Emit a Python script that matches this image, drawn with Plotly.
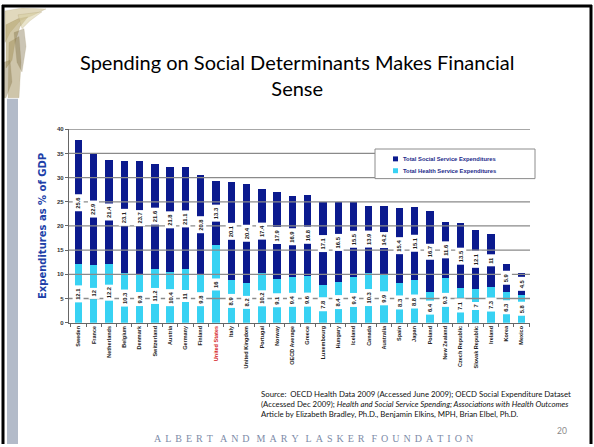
import plotly.graph_objects as go

# OECD social vs health service spending, % of GDP
countries = ["Sweden", "France", "Netherlands", "Belgium", "Denmark", "Switzerland",
             "Austria", "Germany", "Finland", "United States", "Italy", "United Kingdom",
             "Portugal", "Norway", "OECD Average", "Greece", "Luxembourg", "Hungary",
             "Iceland", "Canada", "Australia", "Spain", "Japan", "Poland", "New Zealand",
             "Czech Republic", "Slovak Republic", "Ireland", "Korea", "Mexico"]
health = [12.1, 12, 12.2, 10.3, 9.8, 11.2, 10.4, 11, 9.8, 16, 8.9, 8.2, 10.2, 9.1, 9.4,
          9.6, 7.8, 8.4, 9.4, 10.3, 9.9, 8.3, 8.8, 6.4, 9.3, 7.1, 7, 7.3, 6.3, 5.8]
social = [25.6, 22.9, 21.4, 23.1, 23.7, 21.6, 21.8, 21.1, 20.8, 13.3, 20.1, 20.4, 17.4,
          17.9, 16.9, 16.8, 17.1, 16.5, 15.5, 13.9, 14.2, 15.4, 15.1, 16.7, 11.6, 13.5,
          12.1, 11.0, 5.9, 4.5]
y_ticks = [0, 5, 10, 15, 20, 25, 30, 35, 40]
highlight = "United States"
health_name = "Total Health Service Expenditures"
social_name = "Total Social Service Expenditures"

NAVY = "#0B1A8E"
CYAN = "#38D2F3"
W, H = 594, 447


def px(x):
    return x / W


def py(y):
    return 1 - y / H


fig = go.Figure()
fig.add_bar(x=countries, y=health, name=health_name,
            marker=dict(color=CYAN, line=dict(width=0)), width=0.48)
fig.add_bar(x=countries, y=social, name=social_name,
            marker=dict(color=NAVY, line=dict(width=0)), width=0.48)

ticktext = [f"<span style='color:#D42020'>{c}</span>" if c == highlight else c
            for c in countries]

shapes = []
# gridlines sit over the bars; value boxes cover them again
for v in y_ticks[1:]:
    shapes.append(dict(type="line", xref="x domain", yref="y", x0=0, x1=1, y0=v, y1=v,
                       line=dict(color="#8A8A8A", width=1.3), layer="above"))

# slide frame and side band
shapes.append(dict(type="rect", xref="paper", yref="paper", x0=px(7), x1=px(18),
                   y0=0, y1=py(97), fillcolor="#B3BBC9", line=dict(width=0), layer="below"))
shapes.append(dict(type="line", xref="paper", yref="paper", x0=px(3), x1=px(3), y0=0, y1=py(2),
                   line=dict(color="black", width=3)))
shapes.append(dict(type="line", xref="paper", yref="paper", x0=px(2), x1=px(592), y0=py(3), y1=py(3),
                   line=dict(color="black", width=3)))
shapes.append(dict(type="line", xref="paper", yref="paper", x0=px(591), x1=px(591), y0=0, y1=py(2),
                   line=dict(color="black", width=3)))
# winged bronze ornament in the corner
wing_paths = [
    ([(5, 8), (22, 5), (46, 6), (34, 12), (20, 18), (10, 30), (5, 40)], "rgba(200,186,135,0.55)"),
    ([(6, 22), (18, 16), (28, 14), (20, 24), (15, 40), (12, 58), (6, 66)], "rgba(176,160,105,0.6)"),
    ([(9, 40), (19, 34), (21, 60), (19, 96), (8, 96)], "rgba(165,150,100,0.55)"),
    ([(18, 12), (42, 9), (30, 18), (22, 26)], "rgba(215,205,160,0.55)"),
    ([(4, 60), (10, 58), (12, 80), (6, 96), (4, 96)], "rgba(140,125,80,0.45)"),
    ([(14, 30), (24, 26), (26, 44), (22, 70), (17, 60)], "rgba(125,110,70,0.4)"),
]
for pts, col in wing_paths:
    d = " ".join(("M " if k == 0 else "L ") + f"{px(x):.4f},{py(y):.4f}" for k, (x, y) in enumerate(pts))
    shapes.append(dict(type="path", xref="paper", yref="paper", path=d + " Z",
                       fillcolor=col, line=dict(color="rgba(150,135,85,0.35)", width=0.5),
                       layer="below"))

# legend panel
lg_x0, lg_x1, lg_y0, lg_y1 = 375, 535, 148, 178
shapes.append(dict(type="rect", xref="paper", yref="paper", x0=px(lg_x0), x1=px(lg_x1),
                   y0=py(lg_y1), y1=py(lg_y0), fillcolor="white", line=dict(color="#8C8C8C", width=1),
                   layer="above"))
legend_rows = [(social_name, NAVY, 158), (health_name, CYAN, 170)]
for name, col, ry in legend_rows:
    shapes.append(dict(type="rect", xref="paper", yref="paper", x0=px(393), x1=px(398),
                       y0=py(ry + 2.5), y1=py(ry - 2.5), fillcolor=col, line=dict(width=0), layer="above"))

annotations = []
for name, col, ry in legend_rows:
    annotations.append(dict(x=px(401), y=py(ry), xref="paper", yref="paper", xanchor="left", yanchor="middle",
                            text=name, showarrow=False,
                            font=dict(family="Arial", size=5.8, color="#1B2A8A", weight="bold")))

lab_font = dict(family="Arial", size=5.8, color="#222222", weight="bold")
for c, h, s in zip(countries, health, social):
    annotations.append(dict(x=c, y=h / 2, xref="x", yref="y", text=f"{h:g}", textangle=-90,
                            showarrow=False, bgcolor="white", borderpad=2, font=lab_font))
    annotations.append(dict(x=c, y=h + s / 2, xref="x", yref="y", text=f"{s:g}", textangle=-90,
                            showarrow=False, bgcolor="white", borderpad=2, font=lab_font))

annotations.append(dict(x=0.5, y=py(73), xref="paper", yref="paper", xanchor="center", yanchor="middle",
                        text="Spending on Social Determinants Makes Financial<br>Sense", showarrow=False,
                        font=dict(family="Lato", size=20, color="black")))
annotations.append(dict(x=px(259), y=py(389), xref="paper", yref="paper", xanchor="left", yanchor="top",
                        align="left", showarrow=False,
                        text="Source:  OECD Health Data 2009 (Accessed June 2009); OECD Social Expenditure Dataset<br>"
                             "(Accessed Dec 2009); <i>Health and Social Service Spending; Associations with Health Outcomes</i><br>"
                             "Article by Elizabeth Bradley, Ph.D., Benjamin Elkins, MPH, Brian Elbel, Ph.D.",
                        font=dict(family="Lato", size=7.8, color="#111111")))
annotations.append(dict(x=px(569), y=py(434), xref="paper", yref="paper", xanchor="right", yanchor="middle",
                        text="20", showarrow=False, font=dict(family="Lato", size=8.5, color="#8A8A8A")))
# letter-spaced footer: thin spaces between letters, wider gaps between words
footer = "\u2002\u2009".join("\u2009\u2009".join(word) for word in "ALBERT AND MARY LASKER FOUNDATION".split())
annotations.append(dict(x=px(313), y=py(441), xref="paper", yref="paper", xanchor="center", yanchor="middle",
                        text=footer, showarrow=False,
                        font=dict(family="Liberation Serif", size=10, color="#7D8BA8")))

fig.update_layout(
    width=W, height=H,
    margin=dict(l=0, r=0, t=0, b=0),
    paper_bgcolor="white", plot_bgcolor="white",
    barmode="stack",
    showlegend=False,
    xaxis=dict(domain=[px(69), px(530)], type="category", range=[-0.62, 29.55],
               tickvals=countries, ticktext=ticktext, tickangle=-90,
               ticks="outside", tickson="boundaries", ticklen=3, tickcolor="#666666",
               showline=True, linecolor="#666666", linewidth=1.3, showgrid=False,
               tickfont=dict(family="Arial", size=5.5, color="#222222", weight="bold")),
    yaxis=dict(domain=[py(324), py(128)], range=[0, 40], tickvals=y_ticks,
               ticks="outside", ticklen=3, tickcolor="#666666",
               showline=True, linecolor="#666666", linewidth=1.3, showgrid=False, zeroline=False,
               tickfont=dict(family="Arial", size=6, color="#333333", weight="bold"),
               title=dict(text="Expenditures as % of GDP", standoff=8,
                          font=dict(family="DejaVu Sans", size=10, color="#2040A8", weight="bold"))),
    shapes=shapes,
    annotations=annotations,
)

fig.write_html("out.html")
